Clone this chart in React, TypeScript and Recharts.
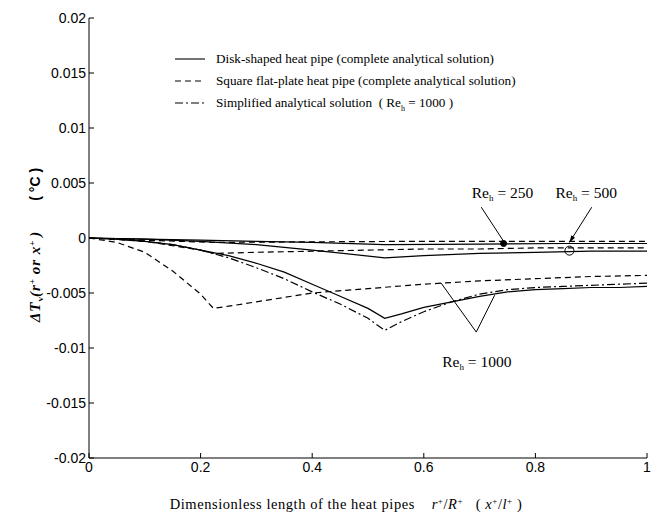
import React from 'react';
import { LineChart, Line, XAxis, YAxis, ReferenceDot, ReferenceLine } from 'recharts';

// Disk-shaped heat pipe, Re_h = 1000 (solid)
const xDisk1000 = [0, 0.05, 0.1, 0.15, 0.2, 0.25, 0.3, 0.35, 0.4, 0.45, 0.5, 0.53, 0.56, 0.6, 0.65, 0.7, 0.75, 0.8, 0.85, 0.9, 0.95, 1];
const yDisk1000 = [0, -0.0001, -0.0003, -0.0006, -0.0011, -0.0016, -0.0023, -0.0031, -0.0042, -0.0053, -0.0064, -0.0073, -0.0069, -0.0063, -0.0058, -0.0053, -0.0049, -0.0047, -0.0046, -0.0045, -0.0045, -0.0044];
// Simplified analytical solution, Re_h = 1000 (dash-dot)
const xSimple1000 = xDisk1000;
const ySimple1000 = [0, -0.0001, -0.0003, -0.0006, -0.0011, -0.0018, -0.0027, -0.0037, -0.0049, -0.006, -0.0073, -0.0084, -0.0076, -0.0067, -0.0058, -0.0051, -0.0047, -0.0045, -0.0044, -0.0043, -0.0042, -0.0041];
// Square flat-plate heat pipe, Re_h = 1000 (dashed)
const xSquare1000 = [0, 0.05, 0.1, 0.15, 0.2, 0.223, 0.25, 0.3, 0.35, 0.4, 0.5, 0.6, 0.7, 0.8, 0.9, 1];
const ySquare1000 = [0, -0.0004, -0.0013, -0.003, -0.0051, -0.0064, -0.0062, -0.0058, -0.0054, -0.005, -0.0046, -0.0042, -0.0039, -0.0037, -0.0035, -0.0034];
// Re_h = 500
const xDisk500 = [0, 0.1, 0.2, 0.3, 0.4, 0.53, 0.6, 0.7, 0.8, 0.9, 1];
const yDisk500 = [0, -0.0001, -0.0003, -0.0006, -0.0011, -0.0018, -0.0016, -0.0014, -0.0013, -0.0012, -0.0012];
const xSquare500 = [0, 0.1, 0.2, 0.223, 0.3, 0.4, 0.5, 0.6, 0.7, 0.8, 0.9, 1];
const ySquare500 = [0, -0.0003, -0.0011, -0.0014, -0.0013, -0.0012, -0.0011, -0.001, -0.001, -0.0009, -0.0009, -0.0009];
// Re_h = 250
const xDisk250 = [0, 0.1, 0.2, 0.3, 0.4, 0.53, 0.7, 0.85, 1];
const yDisk250 = [0, -0.0001, -0.0002, -0.0003, -0.0004, -0.0006, -0.00055, -0.0005, -0.0005];
const xSquare250 = [0, 0.1, 0.223, 0.4, 0.6, 0.8, 1];
const ySquare250 = [0, -0.0002, -0.0004, -0.00035, -0.0003, -0.0003, -0.0003];

// markers for Re_h = 250 / 500
const marker250 = { x: 0.743, y: -0.0005 };
const marker500 = { x: 0.861, y: -0.00115 };

const xTicks = [0, 0.2, 0.4, 0.6, 0.8, 1];
const xTickLabels = ['0', '0.2', '0.4', '0.6', '0.8', '1'];
const yTicks = [-0.02, -0.015, -0.01, -0.005, 0, 0.005, 0.01, 0.015, 0.02];
const yTickLabels = ['-0.02', '-0.015', '-0.01', '-0.005', '0', '0.005', '0.01', '0.015', '0.02'];

const legendLabels = [
  'Disk-shaped heat pipe (complete analytical solution)',
  'Square flat-plate heat pipe (complete analytical solution)',
  'Simplified analytical solution',
];

const zip = (xs: number[], ys: number[]) => xs.map((x, i) => ({ x, y: ys[i] }));

const SERIF = '"Liberation Serif", "Times New Roman", serif';
const SANS = '"Liberation Sans", Arial, sans-serif';

const SOLID = undefined;
const DASH = '6 4';
const DASHDOT = '8 3 2 3';

const fmtX = (v: number) => xTickLabels[xTicks.indexOf(v)] ?? String(v);
const fmtY = (v: number) => yTickLabels[yTicks.findIndex((t) => Math.abs(t - v) < 1e-9)] ?? String(v);

const ReText = ({ viewBox, value }: any) => {
  if (!viewBox) return null;
  return (
    <text x={viewBox.x} y={viewBox.y} fontFamily={SERIF} fontSize={15.5} fill="#000">
      Re<tspan dy={3} fontSize={9}>h</tspan>
      <tspan dy={-3}>{'\u00a0= '}{value}</tspan>
    </text>
  );
};

const ArrowSeg = (props: any) => {
  const { x1, y1, x2, y2 } = props;
  if ([x1, y1, x2, y2].some((v) => typeof v !== 'number' || isNaN(v))) return null;
  const ang = Math.atan2(y2 - y1, x2 - x1);
  const L = 7;
  const w = 2.2;
  const bx = x2 - L * Math.cos(ang);
  const by = y2 - L * Math.sin(ang);
  const px = -Math.sin(ang) * w;
  const py = Math.cos(ang) * w;
  return (
    <g>
      <line x1={x1} y1={y1} x2={x2} y2={y2} stroke="#000" strokeWidth={1} />
      <polygon points={`${x2},${y2} ${bx + px},${by + py} ${bx - px},${by - py}`} fill="#000" />
    </g>
  );
};

const LegendBox = () => {
  const styles = [SOLID, DASH, DASHDOT];
  return (
    <div style={{ position: 'absolute', left: 172, top: 48, fontFamily: SERIF, fontSize: 13.2, color: '#000', lineHeight: '22px' }}>
      {legendLabels.map((l, i) => (
        <div key={i} style={{ display: 'flex', alignItems: 'center', height: 22, whiteSpace: 'nowrap' }}>
          <svg width={44} height={10}>
            <line x1={3} y1={5} x2={33} y2={5} stroke="#000" strokeWidth={1.1} strokeDasharray={styles[i]} />
          </svg>
          <span>
            {l}
            {i === 2 ? (
              <span>
                {'\u00a0\u00a0(\u00a0Re'}
                <sub style={{ fontSize: 8, verticalAlign: 'sub', lineHeight: 0 }}>h</sub>
                {'\u00a0= 1000 )'}
              </span>
            ) : null}
          </span>
        </div>
      ))}
    </div>
  );
};

export default function App() {
  const lineProps = { type: 'linear' as const, dataKey: 'y', stroke: '#000', strokeWidth: 1.2, dot: false, isAnimationActive: false, legendType: 'none' as const };
  return (
    <div style={{ position: 'absolute', left: 0, top: 0, width: 652, height: 527, background: '#fff' }}>
      <LineChart width={652} height={527} margin={{ top: 18, right: 5, left: 0, bottom: 0 }}>
        <XAxis
          xAxisId={0}
          dataKey="x"
          type="number"
          domain={[0, 1]}
          ticks={xTicks}
          tickFormatter={fmtX}
          height={69}
          tickSize={-5}
          tickMargin={9}
          axisLine={{ stroke: '#000', strokeWidth: 1 }}
          tickLine={{ stroke: '#000' }}
          tick={{ fill: '#000', fontFamily: SANS, fontSize: 14 }}
          allowDataOverflow
          label={{
            content: () => (
              <text x={346} y={509} textAnchor="middle" fontFamily={SERIF} fontSize={14.5} letterSpacing={0.55} fill="#000">
                Dimensionless length of the heat pipes{'\u00a0\u00a0\u00a0\u00a0'}
                <tspan fontStyle="italic">r</tspan><tspan dy={-5} fontSize={9}>+</tspan><tspan dy={5}>/</tspan>
                <tspan fontStyle="italic">R</tspan><tspan dy={-5} fontSize={9}>+</tspan>
                <tspan dy={5}>{'\u00a0\u00a0\u00a0(\u00a0'}</tspan>
                <tspan fontStyle="italic">x</tspan><tspan dy={-5} fontSize={9}>+</tspan><tspan dy={5}>/</tspan>
                <tspan fontStyle="italic">l</tspan><tspan dy={-5} fontSize={9}>+</tspan>
                <tspan dy={5}>{'\u00a0)'}</tspan>
              </text>
            ),
          }}
        />
        <XAxis
          xAxisId="top"
          dataKey="x"
          type="number"
          orientation="top"
          domain={[0, 1]}
          ticks={xTicks}
          tickFormatter={() => ''}
          height={0}
          tickSize={-5}
          axisLine={{ stroke: '#000', strokeWidth: 1 }}
          tickLine={{ stroke: '#000' }}
        />
        <YAxis
          yAxisId={0}
          type="number"
          domain={[-0.02, 0.02]}
          ticks={yTicks}
          tickFormatter={fmtY}
          width={89}
          tickSize={-5}
          tickMargin={8}
          axisLine={{ stroke: '#000', strokeWidth: 1 }}
          tickLine={{ stroke: '#000' }}
          tick={{ fill: '#000', fontFamily: SANS, fontSize: 14 }}
          allowDataOverflow
          label={{
            content: () => (
              <text transform="translate(40,245) rotate(-90)" textAnchor="middle" fill="#000" fontSize={15}>
                <tspan fontFamily={SERIF} fontWeight="bold" fontStyle="italic" letterSpacing={1}>ΔT</tspan>
                <tspan fontFamily={SERIF} fontWeight="bold" fontSize={9} dy={3}>v</tspan>
                <tspan fontFamily={SERIF} fontWeight="bold" fontStyle="italic" letterSpacing={1} dy={-3}>(r</tspan>
                <tspan fontFamily={SERIF} fontWeight="bold" fontSize={9} dy={-5}>+</tspan>
                <tspan fontFamily={SERIF} fontWeight="bold" fontStyle="italic" letterSpacing={1} dy={5}>{'\u00a0or x'}</tspan>
                <tspan fontFamily={SERIF} fontWeight="bold" fontSize={9} dy={-5}>+</tspan>
                <tspan fontFamily={SERIF} fontWeight="bold" fontStyle="italic" dy={5}>{'\u00a0)'}</tspan>
                <tspan fontFamily={SANS} fontWeight="bold" fontSize={14}>{'\u00a0\u00a0\u00a0\u00a0\u00a0\u00a0\u00a0\u00a0(\u00a0°C\u00a0)'}</tspan>
              </text>
            ),
          }}
        />
        <YAxis
          yAxisId="right"
          type="number"
          orientation="right"
          domain={[-0.02, 0.02]}
          ticks={yTicks}
          tickFormatter={() => ''}
          width={0}
          tickSize={-5}
          axisLine={{ stroke: '#000', strokeWidth: 1 }}
          tickLine={{ stroke: '#000' }}
        />
        <Line {...lineProps} data={zip(xSquare250, ySquare250)} strokeDasharray={DASH} />
        <Line {...lineProps} data={zip(xDisk250, yDisk250)} />
        <Line {...lineProps} data={zip(xSquare500, ySquare500)} strokeDasharray={DASH} />
        <Line {...lineProps} data={zip(xDisk500, yDisk500)} />
        <Line {...lineProps} data={zip(xSquare1000, ySquare1000)} strokeDasharray={DASH} />
        <Line {...lineProps} data={zip(xDisk1000, yDisk1000)} />
        <Line {...lineProps} data={zip(xSimple1000, ySimple1000)} strokeDasharray={DASHDOT} />

        <ReferenceLine segment={[{ x: 0.703, y: 0.0028 }, { x: marker250.x, y: -0.0003 }]} stroke="#000" strokeWidth={1} />
        <ReferenceLine segment={[{ x: 0.901, y: 0.0028 }, { x: marker500.x, y: -0.0004 }]} stroke="#000" strokeWidth={1} shape={ArrowSeg} />
        <ReferenceLine segment={[{ x: 0.631, y: -0.0041 }, { x: 0.694, y: -0.00855 }]} stroke="#000" strokeWidth={1} />
        <ReferenceLine segment={[{ x: 0.694, y: -0.00855 }, { x: 0.727, y: -0.0052 }]} stroke="#000" strokeWidth={1} />

        <ReferenceDot x={marker250.x} y={marker250.y} r={3} fill="#000" stroke="#000" />
        <ReferenceDot x={marker500.x} y={marker500.y} r={4.5} fill="none" stroke="#000" strokeWidth={1} />

        <ReferenceDot x={0.686} y={0.0036} r={0} stroke="none" label={(p: any) => <ReText {...p} value="250" />} />
        <ReferenceDot x={0.836} y={0.0036} r={0} stroke="none" label={(p: any) => <ReText {...p} value="500" />} />
        <ReferenceDot x={0.633} y={-0.0117} r={0} stroke="none" label={(p: any) => <ReText {...p} value="1000" />} />
      </LineChart>
      <LegendBox />
    </div>
  );
}
